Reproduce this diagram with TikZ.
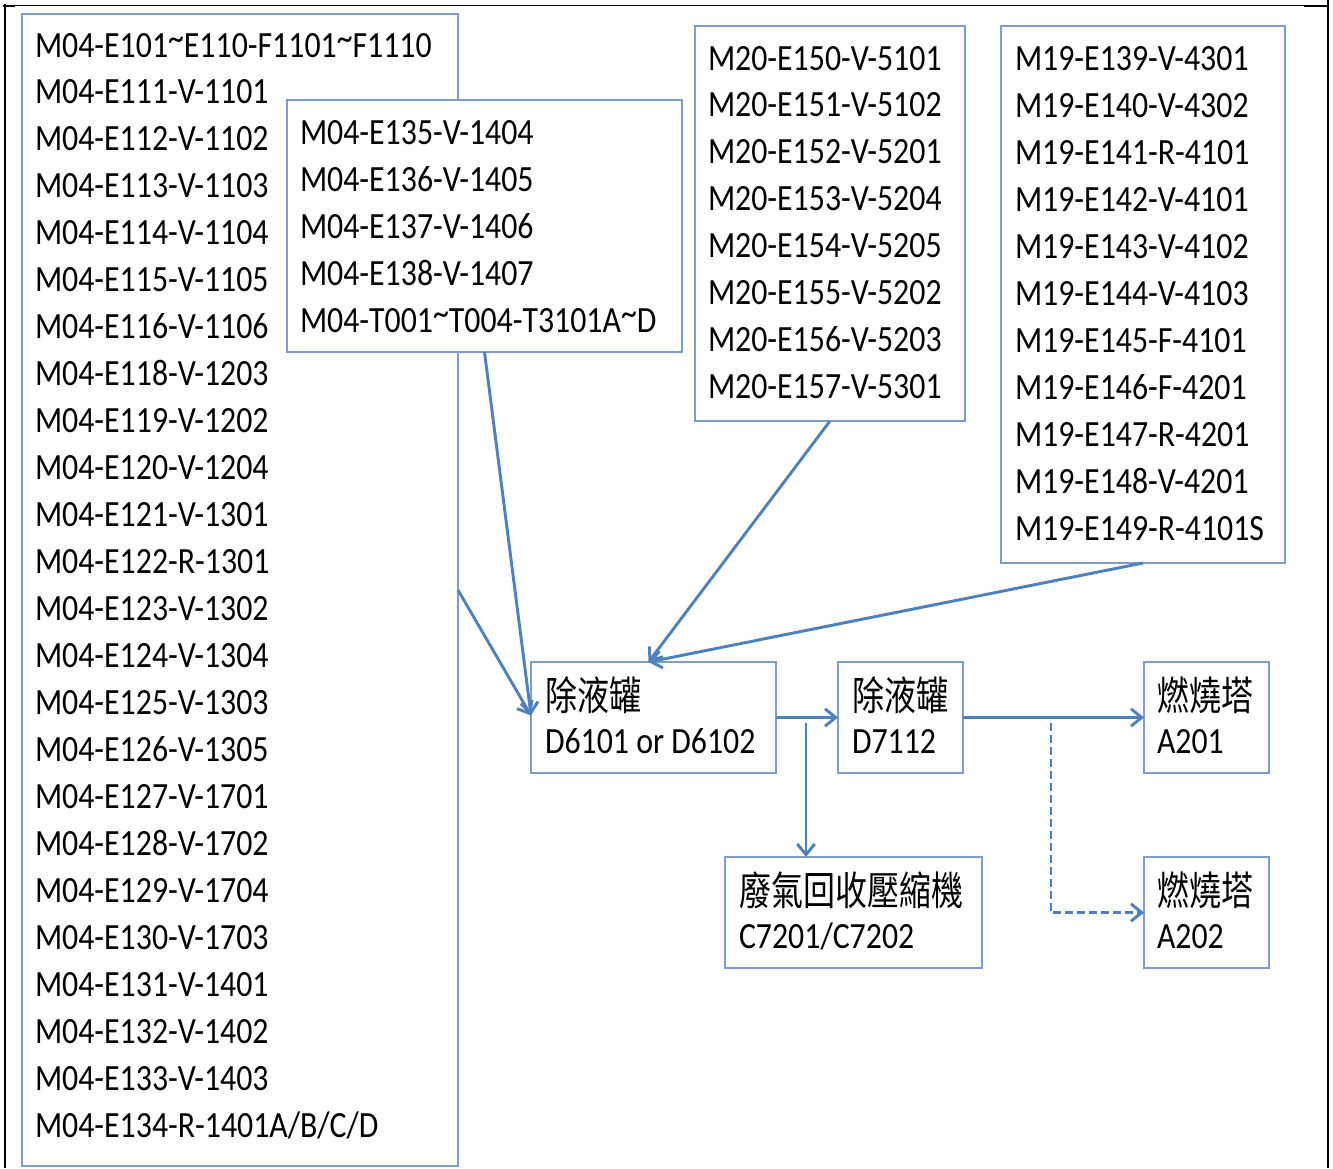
\documentclass[tikz,border=0pt]{standalone}
\usepackage{fontspec}
\usetikzlibrary{arrows.meta,calc}
\newfontfamily\latf[FakeStretch=0.86]{Carlito}
\newfontfamily\cjkf[FakeStretch=0.8]{Noto Sans CJK TC}
\newcommand\hitil{\raisebox{0.18em}{\textasciitilde}}
\definecolor{boxc}{RGB}{126,156,206}
\definecolor{arrc}{RGB}{79,129,189}
\tikzset{
  box/.style={draw=boxc, fill=white, line width=1.1pt, inner sep=0pt, outer sep=0pt},
  txt/.style={anchor=base west, inner sep=0pt, outer sep=0pt, font=\latf\fontsize{27.75pt}{30pt}\selectfont},
  ctxt/.style={anchor=base west, inner sep=0pt, outer sep=0pt, font=\cjkf\fontsize{30pt}{32pt}\selectfont},
  conn/.style={draw=arrc, line width=2.2pt, -{Straight Barb[length=8pt,width=13pt]}},
  frame/.style={draw=black, line width=1.5pt}
}
\begin{document}
\begin{tikzpicture}[x=0.75pt,y=-0.75pt]
\useasboundingbox (0,0) rectangle (1333,1168);
% outer frame
\draw[frame] (4.5,4) -- (4.5,1168);
\draw[black, line width=0.8pt] (4,5.5) -- (1328,5.5);
\draw[frame] (3,6) -- (15,6);
\draw[frame] (1304,6) -- (1327,6);
\draw[frame] (1327.5,0) -- (1327.5,1168);

% boxes
\node[box, minimum width={436*0.75pt}, minimum height={1152*0.75pt}] (L) at (240,590) {};
\node[box, minimum width={395*0.75pt}, minimum height={252*0.75pt}] (S) at (484.5,226) {};
\node[box, minimum width={270*0.75pt}, minimum height={395*0.75pt}] (T) at (830,223.5) {};
\node[box, minimum width={284*0.75pt}, minimum height={537*0.75pt}] (R) at (1143,294.5) {};
\node[box, minimum width={245*0.75pt}, minimum height={111*0.75pt}] (D61) at (653.5,717.5) {};
\node[box, minimum width={125*0.75pt}, minimum height={111*0.75pt}] (D71) at (900.5,717.5) {};
\node[box, minimum width={125*0.75pt}, minimum height={111*0.75pt}] (A1) at (1206.5,717.5) {};
\node[box, minimum width={257*0.75pt}, minimum height={111*0.75pt}] (C72) at (853.5,912.5) {};
\node[box, minimum width={125*0.75pt}, minimum height={111*0.75pt}] (A2) at (1206.5,912.5) {};

% left box texts
\foreach \t [count=\i] in {
  {M04-E101\hitil E110-F1101\hitil F1110},
  {M04-E111-V-1101},{M04-E112-V-1102},{M04-E113-V-1103},{M04-E114-V-1104},
  {M04-E115-V-1105},{M04-E116-V-1106},{M04-E118-V-1203},{M04-E119-V-1202},
  {M04-E120-V-1204},{M04-E121-V-1301},{M04-E122-R-1301},{M04-E123-V-1302},
  {M04-E124-V-1304},{M04-E125-V-1303},{M04-E126-V-1305},{M04-E127-V-1701},
  {M04-E128-V-1702},{M04-E129-V-1704},{M04-E130-V-1703},{M04-E131-V-1401},
  {M04-E132-V-1402},{M04-E133-V-1403},{M04-E134-R-1401A/B/C/D}}
  \node[txt] (L\i) at (35,{57+46.96*(\i-1)}) {\t};

% second box texts
\foreach \t [count=\i] in {
  {M04-E135-V-1404},{M04-E136-V-1405},{M04-E137-V-1406},{M04-E138-V-1407},
  {M04-T001\hitil T004-T3101A\hitil D}}
  \node[txt] (S\i) at (300,{144+47*(\i-1)}) {\t};

% third box texts
\foreach \t [count=\i] in {
  {M20-E150-V-5101},{M20-E151-V-5102},{M20-E152-V-5201},{M20-E153-V-5204},
  {M20-E154-V-5205},{M20-E155-V-5202},{M20-E156-V-5203},{M20-E157-V-5301}}
  \node[txt] (T\i) at (708,{70+46.86*(\i-1)}) {\t};

% fourth box texts
\foreach \t [count=\i] in {
  {M19-E139-V-4301},{M19-E140-V-4302},{M19-E141-R-4101},{M19-E142-V-4101},
  {M19-E143-V-4102},{M19-E144-V-4103},{M19-E145-F-4101},{M19-E146-F-4201},
  {M19-E147-R-4201},{M19-E148-V-4201},{M19-E149-R-4101S}}
  \node[txt] (R\i) at (1015,{70+47*(\i-1)}) {\t};

% equipment boxes texts
\node[ctxt] (D61a) at (545,710) {除液罐};
\node[txt]  (D61b) at (545,753) {D6101 or D6102};
\node[ctxt] (D71a) at (852,710) {除液罐};
\node[txt]  (D71b) at (852,753) {D7112};
\node[ctxt] (A1a) at (1157,710) {燃燒塔};
\node[txt]  (A1b) at (1157,753) {A201};
\node[ctxt] (C72a) at (739,905) {廢氣回收壓縮機};
\node[txt]  (C72b) at (739,948) {C7201/C7202};
\node[ctxt] (A2a) at (1157,905) {燃燒塔};
\node[txt]  (A2b) at (1157,948) {A202};

% branch points
\coordinate (brC) at ($(D61.east)+(30,5)$);
\coordinate (brA) at ($(D71.east)+(88,5)$);

% connectors
\draw[conn] (L.east) -- ($(D61.west)+(0,-2)$);
\draw[conn] (S.south) -- ($(D61.west)+(0,-2)$);
\draw[conn] (T.south) -- ($(D61.north)+(-5,0)$);
\draw[conn] (R.south) -- ($(D61.north)+(-5,0)$);
\draw[conn] (D61.east) -- (D71.west);
\draw[conn] (brC) -- (brC |- C72.north);
\draw[conn] (D71.east) -- (A1.west);
\draw[conn, dash pattern=on 6pt off 3pt] (brA) |- (A2.west);
\end{tikzpicture}
\end{document}
